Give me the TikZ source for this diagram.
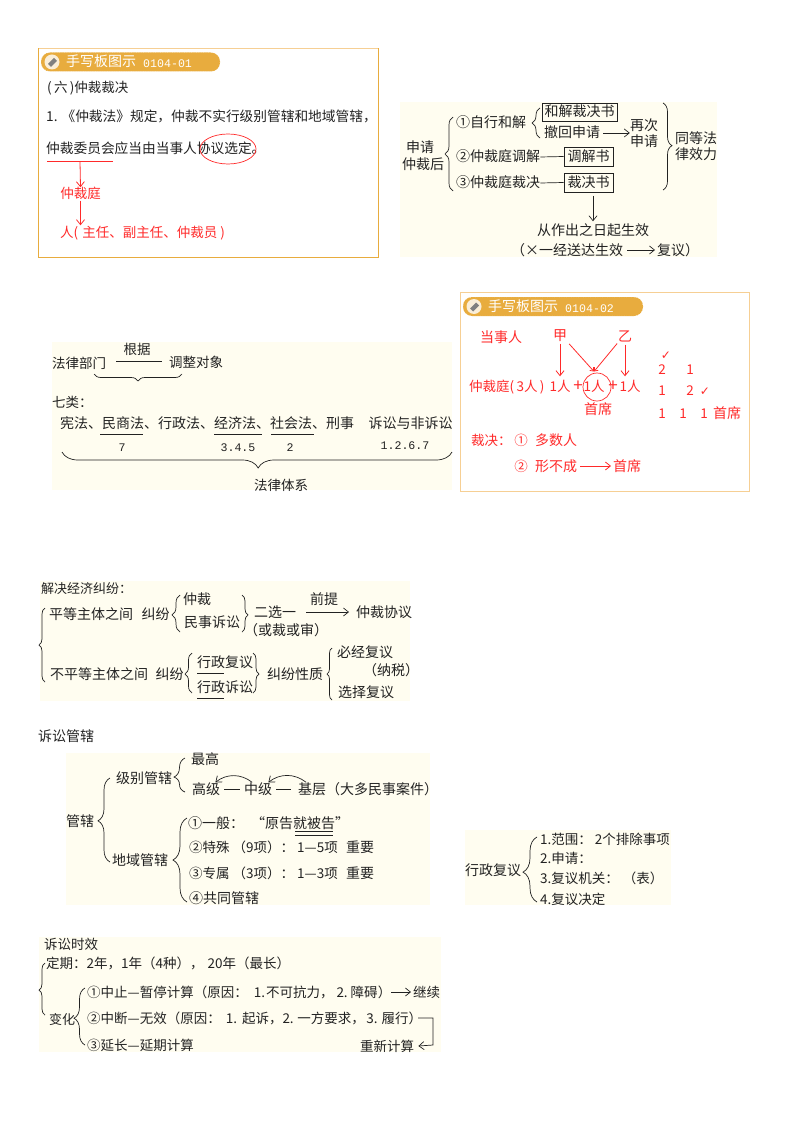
\documentclass[tikz,border=0pt]{standalone}
\usepackage{fontspec}
\setmainfont{Noto Sans CJK SC}
\setmonofont{Liberation Mono}
\newfontfamily\checkfont{DejaVu Sans}
\usetikzlibrary{shapes,arrows.meta,positioning}
\usetikzlibrary{decorations.pathreplacing}
\definecolor{ink}{HTML}{222222}
\definecolor{redink}{HTML}{FF2A2A}
\definecolor{cream}{HTML}{FFFDF0}
\definecolor{amber}{HTML}{E8AC3E}
\definecolor{paleamber}{HTML}{F6CF94}
\newcommand{\dou}{^^^^ff0c}
\newcommand{\mao}{^^^^ff1a}
\newcommand{\kuo}{^^^^ff08}
\newcommand{\hui}{^^^^ff09}
\tikzset{
	txt/.style={anchor=west, inner sep=0pt, text height=11.5pt, text depth=1.5pt, text=ink, font=\fontsize{#1}{16}\selectfont},
	txt/.default=13.5,
	rtxt/.style={txt=#1, text=redink},
	rtxt/.default=13.5,
	mono/.style={txt=11, anchor=center, font=\fontsize{11.6}{14}\ttfamily},
	wood/.style={draw=none, fill=cream},
	pill/.style={rectangle, rounded corners=9pt, fill=amber, draw=white, dotted, minimum height=19pt, inner sep=0pt},
	pen/.style={circle, fill=white!80!amber, minimum size=15pt, inner sep=0pt},
	boxed/.style={draw=ink, line width=.8pt, rectangle, inner sep=0pt},
	line/.style={draw=ink, line width=.7pt},
	redline/.style={draw=redink, line width=.8pt},
	curly/.style 2 args={draw=ink, line width=.7pt, decorate, decoration={brace, amplitude=#1pt, aspect=#2}},
}
\begin{document}
\begin{tikzpicture}[x=1pt, y=-1pt, >={Straight Barb[length=5pt,width=8pt]}]
	\useasboundingbox (0,0) rectangle (794,1123);

	\path [wood] (400,102) rectangle (717,257);
	\path [wood] (52,342) rectangle (452,490);
	\path [wood] (40,581) rectangle (410,701);
	\path [wood] (66,753) rectangle (430,905);
	\path [wood] (465,830) rectangle (671,905);
	\path [wood] (39,937) rectangle (441,1052);

	% first board
	\draw [amber, line width=1pt] (38.5,48.5) rectangle (378,257);
	\draw [paleamber, line width=1pt] (38.5,48.5) -- (378,48.5);
	\node [pill, minimum width=179pt] (A0) at (130.5,62) {};
	\node [pen] (A01) at (52,62) {};
	\fill [gray] (48,64) -- (54,58) -- (57,61) -- (51,67) -- cycle;
	\node [txt=14, text=white] (A02) at (66,62) {手写板图示};
	\node [mono, anchor=west, text=white] (A03) at (143,62.5) {0104-01};
	\node [txt] (A1) at (47,87.5) {(\,六\,)仲裁裁决};
	\node [txt=13.7] (A2) at (46,117) {1.\hspace{4pt}《仲裁法》规定\dou{}仲裁不实行级别管辖和地域管辖\dou};
	\node [txt=13.7] (A3) at (46,149) {仲裁委员会应当由当事人协议选定。};
	\node [ellipse, draw=redink, line width=.7pt, minimum width=56pt, minimum height=30pt, inner sep=0pt] (A4) at (228,149) {};
	\coordinate (A51) at (47,161.5);
	\coordinate (A52) at (113,161.5);
	\coordinate (A53) at (80,161.5);
	\node [rtxt, anchor=center] (A6) at (80.5,194) {仲裁庭};
	\node [rtxt] (A7) at (60,232) {人(\hspace{4pt}主任、副主任、仲裁员\hspace{3pt})};
	\path (A51) edge [redline] (A52);
	\path [->] (A53) edge [redline] (A6.north)
		(A6.south) edge [redline] (A6.south |- A7.north);

	% second board
	\node [txt=14, anchor=center] (B1) at (420,148) {申请};
	\node [txt=14, anchor=center] (B2) at (423,165) {仲裁后};
	\node [txt=14] (B3) at (456,123) {①自行和解};
	\node [txt=14] (B4) at (456,157) {②仲裁庭调解};
	\node [txt=14] (B5) at (456,183) {③仲裁庭裁决};
	\node [txt=14, boxed, anchor=center, minimum width=75pt, minimum height=18pt] (B6) at (579.5,112) {和解裁决书};
	\node [txt=14] (B7) at (544,133) {撤回申请};
	\node [txt=14, anchor=center] (B8) at (644,126) {再次};
	\node [txt=14, anchor=center] (B9) at (644,142) {申请};
	\node [txt=14, boxed, anchor=center, minimum width=49pt, minimum height=19pt] (B10) at (588.5,156.5) {调解书};
	\node [txt=14, boxed, anchor=center, minimum width=49pt, minimum height=19pt] (B11) at (588.5,182.5) {裁决书};
	\node [txt=14, anchor=center] (B12) at (696,139) {同等法};
	\node [txt=14, anchor=center] (B13) at (696,155) {律效力};
	\node [txt=14, anchor=center] (B14) at (593,231) {从作出之日起生效};
	\node [txt=14] (B15) at (511,250) {\kuo{}×一经送达生效};
	\node [txt=14] (B16) at (657,250) {复议\hui};
	\coordinate (B17) at (593,196);
	\path [->] (B7.east) edge [line, shorten <=3pt] (B8.south west |- B7)
		(B15.east) edge [line, shorten <=4pt, shorten >=2pt] (B16.west)
		(B17) edge [line, shorten >=3pt] (B14.north);
	\path (B4.east) edge [line] (B10.west)
		(B5.east) edge [line] (B11.west);
	\coordinate (B21) at (453,191); \coordinate (B22) at (453,117);
	\coordinate (B23) at (540,138); \coordinate (B24) at (540,108);
	\coordinate (B25) at (663,103); \coordinate (B26) at (663,190);
	\draw [curly={8}{.5}] (B21) -- (B22);
	\draw [curly={8}{.5}] (B23) -- (B24);
	\draw [curly={9}{.49}] (B25) -- (B26);

	% legal system
	\node [txt] (C1) at (52,363) {法律部门};
	\node [txt, anchor=center] (C2) at (137,349) {根据};
	\node [txt] (C3) at (169,362) {调整对象};
	\coordinate (C41) at (116,361); \coordinate (C42) at (162,361);
	\path (C41) edge [line] (C42);
	\coordinate (C43) at (182,374); \coordinate (C44) at (94,374);
	\draw [curly={7}{.5}] (C43) -- (C44);
	\node [txt] (C5) at (52,402) {七类\mao};
	\node [txt=14] (C6) at (60,423) {宪法、民商法、行政法、经济法、社会法、刑事};
	\node [txt=14, right=14pt of C6] (C7) {诉讼与非诉讼};
	\coordinate (C81) at (100,434); \coordinate (C82) at (143,434);
	\coordinate (C83) at (214,434); \coordinate (C84) at (262,434);
	\coordinate (C85) at (271,434); \coordinate (C86) at (314,434);
	\path (C81) edge [line] (C82)
		(C83) edge [line] (C84)
		(C85) edge [line] (C86);
	\node [mono] (C91) at (122,446) {7};
	\node [mono] (C92) at (238,446) {3.4.5};
	\node [mono] (C93) at (290,446) {2};
	\node [mono] (C94) at (405,444) {1.2.6.7};
	\coordinate (C95) at (452,452); \coordinate (C96) at (62,452);
	\draw [curly={16}{.497}] (C95) -- (C96);
	\node [txt, anchor=center] (C10) at (281,485) {法律体系};

	% second handwritten board
	\draw [paleamber, line width=1pt] (460.5,292.5) rectangle (749.5,491.5);
	\node [pill, minimum width=180pt] (D0) at (553,306.5) {};
	\node [pen] (D01) at (474,306.5) {};
	\fill [gray] (470,308.5) -- (476,302.5) -- (479,305.5) -- (473,311.5) -- cycle;
	\node [txt=14, text=white] (D02) at (488,306.5) {手写板图示};
	\node [mono, anchor=west, text=white] (D03) at (565,307) {0104-02};
	\node [rtxt=14] (D1) at (480,337) {当事人};
	\node [rtxt=14, anchor=center] (D2) at (560,335) {甲};
	\node [rtxt=14, anchor=center] (D3) at (625,336) {乙};
	\node [rtxt] (D4) at (469,386) {仲裁庭(\,3人\,)};
	\node [rtxt, anchor=center] (D5) at (560,386) {1人};
	\node [rtxt, anchor=center] (D6) at (594,386) {1人};
	\node [rtxt, anchor=center] (D7) at (630,386) {1人};
	\node [rtxt=17, anchor=center] (D8) at (578,386) {+};
	\node [rtxt=17, anchor=center] (D9) at (613,386) {+};
	\node [circle, draw=redink, line width=.7pt, minimum size=28pt, inner sep=0pt] (D10) at (597,387) {};
	\node [rtxt=14, anchor=center] (D11) at (598,409) {首席};
	\coordinate (D12) at (594,371.5);
	\path [->] (D2.south) edge [redline, shorten <=2pt, shorten >=3pt] (D5.north)
		(D3.south) edge [redline, shorten <=2pt, shorten >=3pt] (D3.south |- D7.north);
	\path [-{Straight Barb[length=3pt,width=5pt]}] (D2.south east) edge [redline, shorten <=3pt] (D12)
		(D3.south west) edge [redline, shorten <=1pt] (D12);
	\node [rtxt, anchor=center, font=\fontsize{12}{14}\checkfont] (D21) at (666,354) {✓};
	\node [rtxt, anchor=center] (D22) at (662,369) {2};
	\node [rtxt, anchor=center] (D23) at (690,369) {1};
	\node [rtxt, anchor=center] (D24) at (662,390) {1};
	\node [rtxt, anchor=center] (D25) at (690,390) {2};
	\node [rtxt, anchor=center, font=\fontsize{12}{14}\checkfont] (D26) at (705,390) {✓};
	\node [rtxt, anchor=center] (D27) at (662,413) {1};
	\node [rtxt, anchor=center] (D28) at (683,413) {1};
	\node [rtxt, anchor=center] (D29) at (704,413) {1};
	\node [rtxt=14] (D30) at (713,413) {首席};
	\node [rtxt] (D31) at (471,440) {裁决\mao};
	\node [rtxt, anchor=center] (D32) at (521,440) {①};
	\node [rtxt=14] (D33) at (535,440) {多数人};
	\node [rtxt, anchor=center] (D34) at (521,466) {②};
	\node [rtxt=14] (D35) at (535,466) {形不成};
	\node [rtxt=14] (D36) at (613,466) {首席};
	\path [->] (D35.east) edge [redline, shorten <=3pt, shorten >=2pt] (D36.west);

	% disputes
	\node [txt=13] (E1) at (41,588) {解决经济纠纷\mao};
	\node [txt=14] (E2) at (49,614) {平等主体之间};
	\node [txt=14, right=8pt of E2] (E3) {纠纷};
	\node [txt=14] (E4) at (183,599) {仲裁};
	\node [txt=14] (E5) at (184,622) {民事诉讼};
	\node [txt=14] (E6) at (254,612) {二选一};
	\node [txt=14] (E7) at (244,630) {\kuo{}或裁或审\hui};
	\node [txt=14, anchor=center] (E8) at (324,599) {前提};
	\node [txt=14] (E9) at (356,612) {仲裁协议};
	\path [->] (E6.east) edge [line, shorten <=10pt, shorten >=7pt] (E9.west);
	\node [txt=14] (E10) at (50,674) {不平等主体之间};
	\node [txt=14, right=7pt of E10] (E11) {纠纷};
	\node [txt=14] (E12) at (197,662) {行政复议};
	\node [txt=14] (E13) at (197,687) {行政诉讼};
	\node [txt=14] (E14) at (267,674) {纠纷性质};
	\node [txt=14] (E15) at (337,652) {必经复议};
	\node [txt=14] (E16) at (363,670) {\kuo{}纳税\hui};
	\node [txt=14] (E17) at (338,692) {选择复议};
	\coordinate (E21) at (197,673); \coordinate (E22) at (223.5,673);
	\coordinate (E23) at (197,698); \coordinate (E24) at (223.5,698);
	\path (E21) edge [line] (E22)
		(E23) edge [line] (E24);
	\coordinate (E31) at (45,682); \coordinate (E32) at (45,608);
	\coordinate (E33) at (180,632); \coordinate (E34) at (180,595);
	\coordinate (E35) at (242,595); \coordinate (E36) at (242,632);
	\coordinate (E37) at (192,693); \coordinate (E38) at (192,653);
	\coordinate (E39) at (253,653); \coordinate (E40) at (253,693);
	\coordinate (E41) at (332,700); \coordinate (E42) at (332,648);
	\draw [curly={6}{.5}] (E31) -- (E32);
	\draw [curly={8}{.46}] (E33) -- (E34);
	\draw [curly={6}{.54}] (E35) -- (E36);
	\draw [curly={7}{.475}] (E37) -- (E38);
	\draw [curly={6}{.525}] (E39) -- (E40);
	\draw [curly={5}{.5}] (E41) -- (E42);

	% jurisdiction
	\node [txt=14] (F0) at (38,736) {诉讼管辖};
	\node [txt=14] (F1) at (66,821) {管辖};
	\node [txt=14] (F2) at (116,778) {级别管辖};
	\node [txt=14] (F3) at (112,860) {地域管辖};
	\node [txt=14] (F4) at (191,759) {最高};
	\node [txt=14] (F5) at (192,789) {高级};
	\node [txt=14] (F6) at (244,789) {中级};
	\node [txt=14] (F7) at (298,789) {基层};
	\node [txt=14] (F8) at (326,789) {\kuo{}大多民事案件\hui};
	\path (F5.east) edge [line, shorten <=4pt, shorten >=4pt] (F6.west)
		(F6.east) edge [line, shorten <=4pt, shorten >=7pt] (F7.west);
	\path [->] ([xshift=-6pt]F6.north) edge [line, bend right=38] ([xshift=-5pt]F5.north east)
		([xshift=-6pt]F7.north) edge [line, bend right=38] ([xshift=-4pt]F6.north east);
	\node [txt=14] (F9) at (188,823) {①一般\mao\hspace{7pt}“原告就被告”};
	\coordinate (F91) at (295,831); \coordinate (F92) at (333,831);
	\coordinate (F93) at (295,835); \coordinate (F94) at (333,835);
	\path (F91) edge [line] (F92)
		(F93) edge [line] (F94);
	\node [txt=13.5] (F10) at (189,847) {②特殊\hspace{3pt}\kuo{}9项\hui\mao};
	\node [txt=13.5] (F11) at (297,847) {1—5项};
	\node [txt=14] (F12) at (346,847) {重要};
	\node [txt=13.5] (F13) at (189,873) {③专属\hspace{3pt}\kuo{}3项\hui\mao};
	\node [txt=13.5] (F14) at (297,873) {1—3项};
	\node [txt=14] (F15) at (346,873) {重要};
	\node [txt=14] (F16) at (189,898) {④共同管辖};
	\coordinate (F21) at (110,862); \coordinate (F22) at (110,778);
	\coordinate (F23) at (185,792); \coordinate (F24) at (185,758);
	\coordinate (F25) at (187,902); \coordinate (F26) at (187,818);
	\draw [curly={12}{.49}] (F21) -- (F22);
	\draw [curly={11}{.44}] (F23) -- (F24);
	\draw [curly={14}{.5}] (F25) -- (F26);

	% review
	\node [txt=14] (G1) at (465,870) {行政复议};
	\node [txt=13.5] (G2) at (540,839) {1.范围\mao\hspace{3pt}2个排除事项};
	\node [txt=13.5] (G3) at (540,858) {2.申请\mao};
	\node [txt=13.5] (G4) at (540,878) {3.复议机关\mao\hspace{4pt}\kuo{}表\hui};
	\node [txt=13.5] (G5) at (540,899) {4.复议决定};
	\coordinate (G61) at (537,902); \coordinate (G62) at (537,837);
	\draw [curly={14}{.46}] (G61) -- (G62);

	% limitation
	\node [txt=13.5] (H1) at (44,944) {诉讼时效};
	\node [txt=13.5] (H2) at (46,963) {定期\mao{}2年\dou{}1年\kuo{}4种\hui\dou\hspace{4pt}20年\kuo{}最长\hui};
	\node [txt=13] (H3) at (49,1019) {变化};
	\node [txt=13.5] (H4) at (87,992) {①中止—暂停计算\kuo{}原因\mao\hspace{6pt}1.\hspace{1pt}不可抗力\dou\hspace{3pt}2.\hspace{3pt}障碍\hui};
	\node [txt=13.5] (H5) at (413,992) {继续};
	\node [txt=13.5] (H6) at (87,1018) {②中断—无效\kuo{}原因\mao\hspace{5pt}1.\hspace{5pt}起诉\dou{}2.\hspace{3.5pt}一方要求\dou\hspace{1.5pt}3.\hspace{4pt}履行\hui};
	\node [txt=13.5] (H7) at (87,1045) {③延长—延期计算};
	\node [txt=13.5] (H8) at (360,1046) {重新计算};
	\path [->] (H4.east) edge [line, shorten >=2pt] (H5.west);
	\coordinate (H91) at (433,1018);
	\coordinate (H92) at (433,1045);
	\draw [line, ->] ([xshift=-4pt]H6.east) -- (H91) -- (H92) -- ([xshift=4pt]H8.east);
	\coordinate (H93) at (45,1015); \coordinate (H94) at (45,963);
	\coordinate (H95) at (85,1045); \coordinate (H96) at (85,988);
	\draw [curly={6}{.48}] (H93) -- (H94);
	\draw [curly={11}{.47}] (H95) -- (H96);
\end{tikzpicture}
\end{document}
